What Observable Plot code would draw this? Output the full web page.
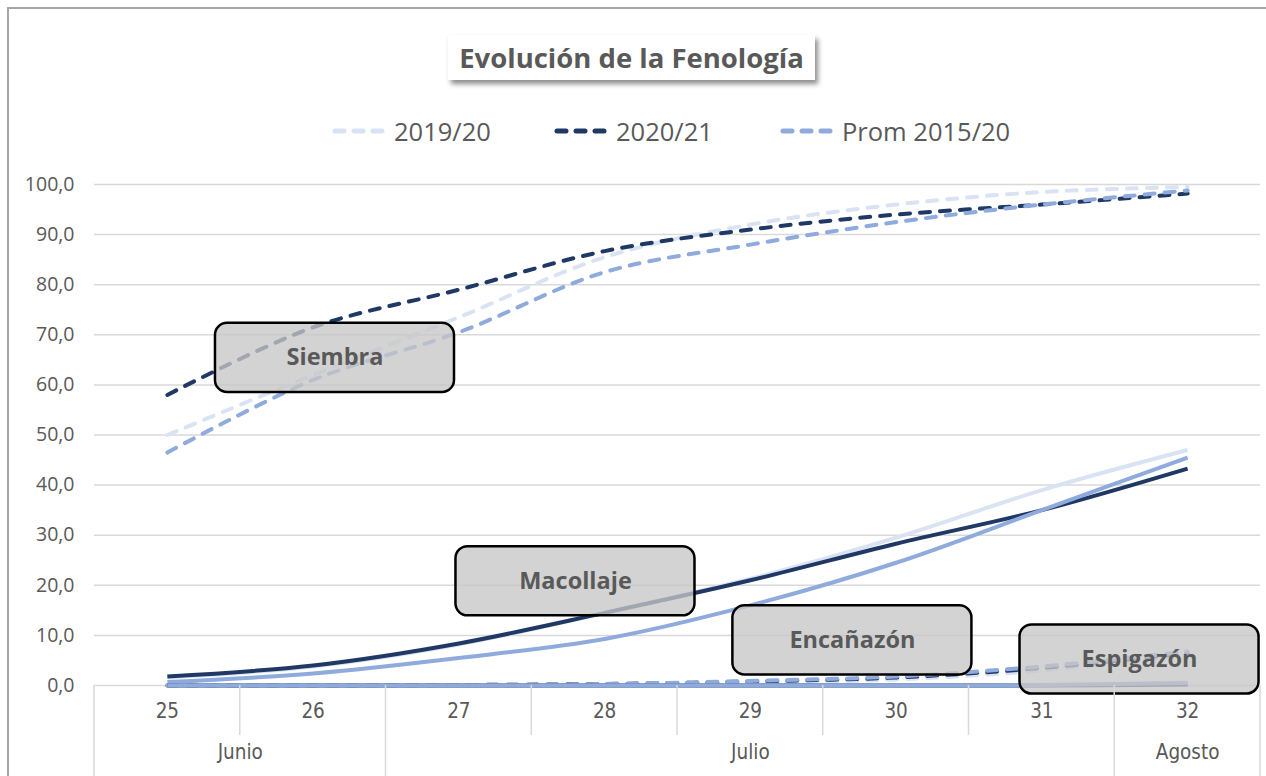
<!DOCTYPE html>
<html><head><meta charset="utf-8">
<script src="https://cdn.jsdelivr.net/npm/d3@7"></script>
<script src="https://cdn.jsdelivr.net/npm/@observablehq/plot@0.6"></script>
<style>
body{margin:0;background:#fff;}
#wrap{position:relative;width:1266px;height:776px;overflow:hidden;font-family:"Open Sans",sans-serif;background:#fff;}
#chart{position:absolute;left:0;top:0;}
#border{position:absolute;left:7px;top:7px;width:1300px;height:900px;border-left:2px solid #a6a6a6;border-top:2px solid #a6a6a6;pointer-events:none;}
#title{position:absolute;left:448px;top:35px;width:367px;height:45px;background:#fff;box-shadow:3px 4px 5px rgba(0,0,0,0.45);font-weight:700;font-size:27.5px;color:#595959;display:flex;align-items:center;justify-content:center;white-space:nowrap;}
.leg{position:absolute;top:115px;height:32px;display:flex;align-items:center;font-size:25.5px;color:#595959;white-space:nowrap;}
.leg svg{margin-right:8px;}
</style></head><body>
<div id="wrap">
  <div id="chart"></div>
  <div id="border"></div>
  <div id="title"></div>
  <div id="legend"></div>
</div>
<script>
// ---- data ----
const chartTitle = "Evolución de la Fenología";
const weeks = [25, 26, 27, 28, 29, 30, 31, 32];
const seriesNames = ["2019/20", "2020/21", "Prom 2015/20"];
const seriesColors = ["#dae3f3", "#1f3864", "#8faadc"];

// Siembra (dashed)
const siembra_1920 = [50, 62, 73.5, 85.5, 92, 96, 98.5, 99.5];
const siembra_2021 = [58, 71.5, 79, 86.7, 91, 94, 96, 98.2];
const siembra_prom = [46.5, 61, 70.5, 82.5, 88, 92.5, 96, 98.8];
// Macollaje (solid)
const macollaje_1920 = [1.6, 3.8, 8.2, 14.5, 21.3, 29.5, 39, 47];
const macollaje_2021 = [1.8, 4, 8.4, 14.5, 21, 28.3, 35, 43.3];
const macollaje_prom = [0.7, 2.4, 5.5, 9.3, 16, 24.5, 35, 45.5];
// Encañazón (dashed)
const encanazon_1920 = [0, 0, 0, 0.1, 0.5, 1.2, 3, 6.2];
const encanazon_2021 = [0, 0, 0.1, 0.3, 0.8, 1.6, 3.5, 6.5];
const encanazon_prom = [0, 0, 0.1, 0.3, 0.9, 1.8, 3.8, 6.8];
// Espigazón (solid)
const espigazon_1920 = [0, 0, 0, 0, 0, 0, 0.1, 0.6];
const espigazon_2021 = [0, 0, 0, 0, 0, 0, 0, 0.2];
const espigazon_prom = [0, 0, 0, 0, 0, 0, 0.1, 0.5];

const yTicks = [0, 10, 20, 30, 40, 50, 60, 70, 80, 90, 100];
const months = ["Junio", "Julio", "Agosto"];
const monthStart = [25, 27, 32];
const monthEnd = [26, 31, 32];

const annotLabels = ["Siembra", "Macollaje", "Encañazón", "Espigazón"];
const annotWeek = [26.15, 27.8, 29.7, 31.67];
const annotValue = [65.4, 20.8, 9.0, 5.2];

// ---- build tables ----
const phases = [
  {phase: "Siembra", dashed: true, vals: [siembra_1920, siembra_2021, siembra_prom]},
  {phase: "Macollaje", dashed: false, vals: [macollaje_1920, macollaje_2021, macollaje_prom]},
  {phase: "Encañazón", dashed: true, vals: [encanazon_1920, encanazon_2021, encanazon_prom]},
  {phase: "Espigazón", dashed: false, vals: [espigazon_1920, espigazon_2021, espigazon_prom]}
];
const lineRows = [];
phases.forEach(p => p.vals.forEach((arr, si) => arr.forEach((v, i) =>
  lineRows.push({phase: p.phase, dashed: p.dashed, series: seriesNames[si], si, week: weeks[i], value: v}))));

const annots = annotLabels.map((l, i) => ({label: l, week: annotWeek[i], value: annotValue[i]}));
const monthRows = months.map((m, i) => ({month: m, mid: (monthStart[i] + monthEnd[i]) / 2}));
const bandEdges = weeks.map(w => w - 0.5).concat([weeks[weeks.length - 1] + 0.5]);
const monthEdges = [monthStart[0] - 0.5].concat(monthEnd.map(e => e + 0.5));

const HALF_W = 0.82, HALF_H = 6.9;
const fmt = d => d.toFixed(1).replace(".", ",");

const lineMarks = [];
phases.forEach(p => {
  seriesNames.forEach((s, si) => {
    lineMarks.push(Plot.line(lineRows.filter(r => r.phase === p.phase && r.si === si), {
      x: "week", y: "value", stroke: seriesColors[si], strokeWidth: 4,
      curve: "catmull-rom",
      strokeDasharray: p.dashed ? "10,10" : null,
      strokeLinecap: p.dashed ? "round" : "butt",
      strokeLinejoin: "round"
    }));
  });
});

const narrow = "Liberation Sans Narrow, DejaVu Sans Condensed, sans-serif";
const plot = Plot.plot({
  width: 1266, height: 776,
  marginTop: 184, marginBottom: 91, marginLeft: 94, marginRight: 6,
  x: {type: "linear", domain: [24.5, 32.5], axis: null},
  y: {domain: [0, 100], axis: null},
  style: {background: "transparent", overflow: "visible"},
  marks: [
    Plot.ruleY(yTicks, {stroke: "#d9d9d9", strokeWidth: 1.5}),
    Plot.text(yTicks, {x: 24.5, y: d => d, text: fmt, textAnchor: "end", dx: -20, fontSize: 19.5, fill: "#595959", fontFamily: "Open Sans"}),
    Plot.text(weeks, {x: d => d, frameAnchor: "bottom", dy: 32, text: d => String(d), fontSize: 20.5, fill: "#595959", fontFamily: narrow}),
    Plot.text(monthRows, {x: "mid", frameAnchor: "bottom", dy: 73, text: "month", fontSize: 20.5, fill: "#595959", fontFamily: narrow}),
    ...lineMarks,
    Plot.rect(annots, {x1: d => d.week - HALF_W, x2: d => d.week + HALF_W, y1: d => d.value - HALF_H, y2: d => d.value + HALF_H,
      fill: "#c6c6c6", fillOpacity: 0.78, stroke: "#000", strokeWidth: 2.5, rx: 12, ariaLabel: "annot-box"}),
    Plot.text(annots, {x: "week", y: "value", text: "label", fontSize: 23.5, fontWeight: 700, fill: "#595959", fontFamily: "Open Sans", ariaLabel: "annot-text"})
  ]
});
document.getElementById("chart").appendChild(plot);

// category separators below the axis, positioned with the x scale
const svg = d3.select(plot);
const sx = plot.scale("x");
const y0 = plot.scale("y").apply(0);
const gSep = svg.append("g").attr("stroke", "#d9d9d9").attr("stroke-width", 1.5);
bandEdges.forEach(e => {
  const isMonth = monthEdges.includes(e);
  gSep.append("line").attr("x1", sx.apply(e)).attr("x2", sx.apply(e))
    .attr("y1", y0).attr("y2", isMonth ? 776 : y0 + 50);
});
svg.select('g[aria-label="annot-box"]').style("filter", "drop-shadow(3px 4px 3px rgba(0,0,0,0.45))");
svg.select('g[aria-label="annot-text"]').style("filter", "drop-shadow(1px 2px 1.5px rgba(0,0,0,0.3))");

// title & legend
document.getElementById("title").textContent = chartTitle;
const legendLeft = [332, 554, 780];
const lg = document.getElementById("legend");
seriesNames.forEach((s, i) => {
  const div = document.createElement("div");
  div.className = "leg";
  div.style.left = legendLeft[i] + "px";
  div.innerHTML = `<svg width="54" height="10"><line x1="3" x2="51" y1="5" y2="5" stroke="${seriesColors[i]}" stroke-width="5" stroke-linecap="round" stroke-dasharray="9,10"/></svg><span>${s}</span>`;
  lg.appendChild(div);
});
</script>
</body></html>
